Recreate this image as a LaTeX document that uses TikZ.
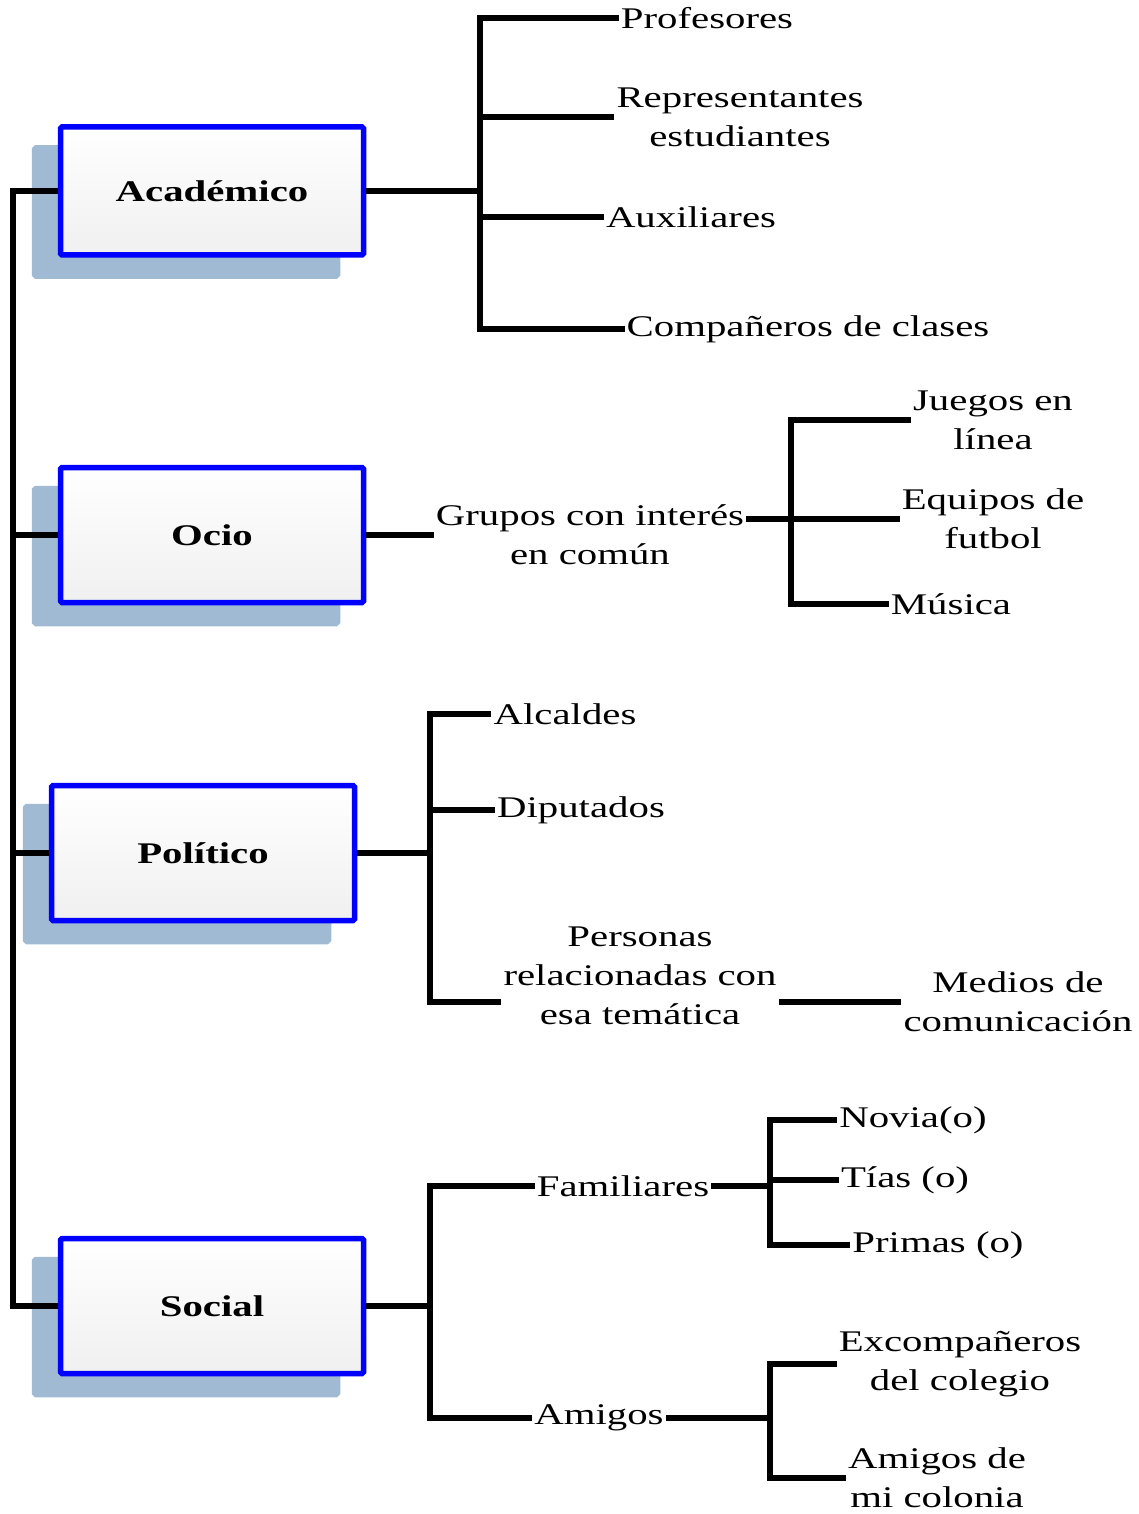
\documentclass[tikz,border=0pt]{standalone}
\usepackage{fontspec}
\setmainfont[FakeStretch=1.36]{Liberation Serif}
\usepackage{tikz}
\usetikzlibrary{shadows}
\definecolor{boxblue}{RGB}{0,0,255}
\definecolor{shadowblue}{RGB}{160,186,211}

\begin{document}
\begin{tikzpicture}
  [x=1pt, y=-1pt,
   every node/.style={font=\fontsize{30}{39}\selectfont, align=center, inner sep=2pt},
   area/.style={draw=boxblue, line width=5.5pt, rounded corners=1.5pt,
     minimum width=303pt, minimum height=135pt, top color=white, bottom color=gray!12,
     font=\fontsize{30}{39}\selectfont\bfseries,
     general shadow={shadow xshift=-26pt, shadow yshift=-21pt, fill=shadowblue, draw=shadowblue}},
   link/.style={line width=5.5pt}]
  \useasboundingbox (0,0) rectangle (1138,1514);

  % main areas
  \node[area, minimum height=128pt] (acad) at (212,191) {Académico};
  \node[area] (ocio) at (212,535) {Ocio};
  \node[area] (polit) at (203,853) {Político};
  \node[area] (social) at (212,1306) {Social};

  % academico
  \node (prof) at (707,18) {Profesores};
  \node (rep) at (740,117) {Representantes\\estudiantes};
  \node (aux) at (691,217) {Auxiliares};
  \node (comp) at (808,329) {Compañeros de clases};

  % ocio
  \node (grupos) at (590,535) {Grupos con interés\\en común};
  \node (juegos) at (993,420) {Juegos en\\línea};
  \node (equipos) at (993,519) {Equipos de\\futbol};
  \node (musica) at (951,604) {Música};

  % politico
  \node (alc) at (565,714) {Alcaldes};
  \node (dip) at (581,810) {Diputados};
  \node (pers) at (640,976) {Personas\\relacionadas con\\esa temática};
  \node (medios) at (1018,1002) {Medios de\\comunicación};

  % social
  \node (fam) at (623,1186) {Familiares};
  \node (ami) at (599,1418) {Amigos};
  \node (novia) at (913,1120) {Novia(o)};
  \node (tias) at (905,1180) {Tías (o)};
  \node (primas) at (938,1245) {Primas (o)};
  \node (exc) at (960,1364) {Excompañeros\\del colegio};
  \node (amc) at (937,1478) {Amigos de\\mi colonia};

  % spine
  \coordinate (sp) at (13,0);
  \draw[link] (acad.west) -| (sp |- social.west) -- (social.west);
  \draw[link] (sp |- ocio.west) -- (ocio.west);
  \draw[link] (sp |- polit.west) -- (polit.west);

  \coordinate (ja) at (480,191);
  \draw[link] (acad.east) -- (ja);
  \draw[link] (prof.west) -| (ja) |- (comp.west);
  \draw[link] (ja |- rep.west) -- (rep.west);
  \draw[link] (ja |- aux.west) -- (aux.west);

  \coordinate (jo) at (791,519);
  \draw[link] (ocio.east) -- (grupos.west);
  \draw[link] (grupos.east |- jo) -- (jo);
  \draw[link] (juegos.west) -| (jo) |- (musica.west);
  \draw[link] (jo) -- (equipos.west);

  \coordinate (jp) at (430,853);
  \draw[link] (polit.east) -- (jp);
  \draw[link] (alc.west) -| (jp) |- (pers.west |- medios.west);
  \draw[link] (jp |- dip.west) -- (dip.west);
  \draw[link] (pers.east |- medios.west) -- (medios.west);

  \coordinate (js) at (430,1306);
  \draw[link] (social.east) -- (js);
  \draw[link] (fam.west) -| (js) |- (ami.west);
  \coordinate (jf) at (770,1186);
  \draw[link] (fam.east) -- (jf);
  \draw[link] (novia.west) -| (jf) |- (primas.west);
  \draw[link] (jf |- tias.west) -- (tias.west);
  \coordinate (jm) at (770,1418);
  \draw[link] (ami.east) -- (jm);
  \draw[link] (exc.west) -| (jm) |- (amc.west);
\end{tikzpicture}
\end{document}
